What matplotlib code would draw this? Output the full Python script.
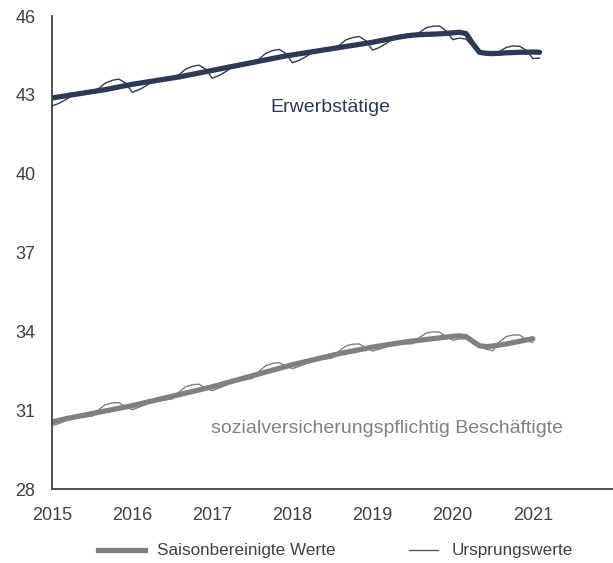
import numpy as np
import matplotlib.pyplot as plt
from matplotlib.lines import Line2D

plt.rcParams['font.family'] = ['Liberation Sans', 'DejaVu Sans']

# monthly values, millions, Jan 2015 onwards
erw_sa = [42.88, 42.92, 42.96, 43.00, 43.04, 43.08, 43.12, 43.16, 43.20, 43.25, 43.30, 43.35,
          43.40, 43.44, 43.48, 43.52, 43.56, 43.60, 43.64, 43.68, 43.73, 43.78, 43.83, 43.88,
          43.93, 43.98, 44.03, 44.08, 44.13, 44.18, 44.23, 44.28, 44.33, 44.38, 44.43, 44.48,
          44.52, 44.56, 44.60, 44.64, 44.68, 44.72, 44.76, 44.80, 44.84, 44.88, 44.92, 44.96,
          45.00, 45.05, 45.10, 45.15, 45.20, 45.24, 45.27, 45.29, 45.30, 45.31, 45.32, 45.34,
          45.36, 45.38, 45.33, 44.95, 44.62, 44.58, 44.57, 44.58, 44.60, 44.61, 44.62, 44.62,
          44.63, 44.62]
erw_orig = [42.58, 42.67, 42.81, 42.97, 43.04, 43.11, 43.14, 43.24, 43.45, 43.55, 43.60, 43.45,
            43.10, 43.19, 43.33, 43.49, 43.56, 43.63, 43.66, 43.76, 43.98, 44.08, 44.13, 43.98,
            43.63, 43.73, 43.88, 44.05, 44.13, 44.21, 44.25, 44.36, 44.58, 44.68, 44.73, 44.58,
            44.22, 44.31, 44.45, 44.61, 44.68, 44.75, 44.78, 44.88, 45.09, 45.18, 45.22, 45.06,
            44.70, 44.80, 44.95, 45.12, 45.20, 45.27, 45.29, 45.37, 45.55, 45.61, 45.62, 45.44,
            45.10, 45.16, 45.12, 44.85, 44.58, 44.58, 44.57, 44.65, 44.80, 44.86, 44.85, 44.70,
            44.38, 44.40]

svb_sa = [30.55, 30.61, 30.67, 30.72, 30.77, 30.82, 30.87, 30.92, 30.97, 31.02, 31.07, 31.12,
          31.17, 31.23, 31.29, 31.35, 31.41, 31.47, 31.53, 31.59, 31.65, 31.71, 31.77, 31.83,
          31.89, 31.96, 32.03, 32.10, 32.17, 32.24, 32.31, 32.38, 32.45, 32.52, 32.59, 32.66,
          32.73, 32.79, 32.85, 32.91, 32.97, 33.03, 33.09, 33.15, 33.20, 33.25, 33.30, 33.35,
          33.40, 33.44, 33.48, 33.52, 33.56, 33.60, 33.63, 33.66, 33.69, 33.72, 33.75, 33.78,
          33.81, 33.83, 33.80, 33.62, 33.45, 33.42, 33.44, 33.48, 33.52, 33.57, 33.62, 33.67,
          33.72]
svb_orig = [30.40, 30.49, 30.59, 30.69, 30.75, 30.74, 30.77, 31.02, 31.21, 31.28, 31.29, 31.14,
            31.02, 31.11, 31.21, 31.32, 31.39, 31.39, 31.43, 31.69, 31.89, 31.97, 31.99, 31.85,
            31.74, 31.84, 31.95, 32.07, 32.15, 32.16, 32.21, 32.48, 32.69, 32.78, 32.81, 32.68,
            32.58, 32.67, 32.77, 32.88, 32.95, 32.95, 32.99, 33.25, 33.44, 33.51, 33.52, 33.37,
            33.25, 33.32, 33.40, 33.49, 33.54, 33.52, 33.53, 33.76, 33.93, 33.98, 33.97, 33.80,
            33.66, 33.71, 33.72, 33.59, 33.43, 33.32, 33.26, 33.60, 33.80, 33.86, 33.86, 33.69,
            33.57]

years = [2015, 2016, 2017, 2018, 2019, 2020, 2021]
y_ticks = [28, 31, 34, 37, 40, 43, 46]

navy = '#2d3a55'
grey = '#808080'
axis_col = '#404040'

fig = plt.figure(figsize=(6.13, 5.63), dpi=100)
ax = fig.add_axes([52 / 613, 74 / 563, 561 / 613, 473 / 563])

x_erw = 2015 + np.arange(len(erw_sa)) / 12
x_svb = 2015 + np.arange(len(svb_sa)) / 12

ax.plot(x_erw, erw_orig, color=navy, lw=1.0, zorder=3)
ax.plot(x_erw, erw_sa, color=navy, lw=3.8, solid_capstyle='round', zorder=2)
ax.plot(x_svb, svb_orig, color=grey, lw=1.0, zorder=3)
ax.plot(x_svb, svb_sa, color=grey, lw=3.8, solid_capstyle='round', zorder=2)

ax.set_xlim(2015, 2022)
ax.set_ylim(28, 46)
ax.set_xticks(years)
ax.set_xticklabels([str(y) for y in years])
ax.set_yticks(y_ticks)
ax.tick_params(axis='both', length=0, labelsize=13, labelcolor=axis_col)
ax.tick_params(axis='x', pad=13)
ax.tick_params(axis='y', pad=12)

for s in ['top', 'right']:
    ax.spines[s].set_visible(False)
for s in ['left', 'bottom']:
    ax.spines[s].set_color(axis_col)
    ax.spines[s].set_linewidth(1.3)

ax.text(2018.47, 42.5, 'Erwerbstätige', color=navy, fontsize=14, ha='center', va='center')
ax.text(2019.18, 30.3, 'sozialversicherungspflichtig Beschäftigte', color=grey,
        fontsize=14, ha='center', va='center')

# legend below the plot
ly = 13 / 563
fig.add_artist(Line2D([98 / 613, 145 / 613], [ly, ly], color=grey, lw=3.8,
                      transform=fig.transFigure))
fig.text(157 / 613, ly, 'Saisonbereinigte Werte', fontsize=12.3, color=axis_col, va='center')
fig.add_artist(Line2D([409 / 613, 438 / 613], [ly, ly], color='#595959', lw=1.0,
                      transform=fig.transFigure))
fig.text(452 / 613, ly, 'Ursprungswerte', fontsize=12.3, color=axis_col, va='center')

fig.savefig('out.png', dpi=100, facecolor='white')
